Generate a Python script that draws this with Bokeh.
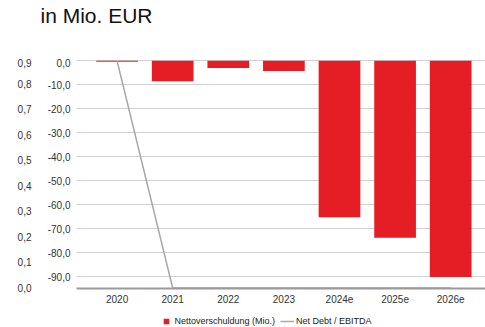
import numpy as np
from bokeh.plotting import figure
from bokeh.layouts import column
from bokeh.models import (Range1d, LinearAxis, FixedTicker, CustomJSTickFormatter,
                          Legend, LegendItem, Title)
from bokeh.embed import file_html
from bokeh.resources import INLINE

# ---- data ----
categories = ["2020", "2021", "2022", "2023", "2024e", "2025e", "2026e"]
net_debt = [-0.4, -8.5, -3.0, -4.3, -65.2, -73.8, -90.1]          # Nettoverschuldung (Mio.)
net_debt_ebitda = [0.89, 0.0, 0.0, 0.0, 0.0, 0.0, 0.0]            # Net Debt / EBITDA
debt_ticks = [0, -10, -20, -30, -40, -50, -60, -70, -80, -90]
ratio_ticks = [0.0, 0.1, 0.2, 0.3, 0.4, 0.5, 0.6, 0.7, 0.8, 0.9]

xs = list(range(len(categories)))
FONT = "Liberation Sans"
RED = "#e41e24"
GREY_LINE = "#a8a8a8"
W = 485


def strip(height):
    f = figure(width=W, height=height, x_range=Range1d(0, 1), y_range=Range1d(0, 1),
               x_axis_type=None, y_axis_type=None, output_backend="svg",
               toolbar_location=None, min_border_left=76, min_border_right=0,
               min_border_top=0, min_border_bottom=0, title=None)
    f.outline_line_color = None
    f.xgrid.visible = False
    f.ygrid.visible = False
    return f


# ---- title strip ----
title_fig = strip(58)
title_fig.title = Title(text="in Mio. EUR", align="left", offset=-36, standoff=2,
                        text_font=FONT, text_font_size="21px", text_font_style="normal",
                        text_color="#111111")

# ---- main chart ----
p = figure(width=W, height=250, title=None,
           x_range=Range1d(-0.73, 6.626), y_range=Range1d(-94.9, 0.96),
           output_backend="svg", toolbar_location=None,
           min_border_left=76, min_border_right=0, min_border_top=0, min_border_bottom=20)
p.outline_line_color = None
p.extra_y_ranges = {"ratio": Range1d(-0.002, 0.9)}

bars = p.vbar(x=xs, top=net_debt, bottom=0, width=0.75, fill_color=RED, line_color=None)
line = p.line(x=xs, y=net_debt_ebitda, y_range_name="ratio", line_color=GREY_LINE, line_width=1.5)

fmt = CustomJSTickFormatter(code="return tick.toFixed(1).replace('.', ',');")

ya = p.yaxis[0]
ya.ticker = FixedTicker(ticks=debt_ticks)
ya.formatter = fmt
ya.axis_line_color = None
ya.major_tick_line_color = None
ya.minor_tick_line_color = None
ya.major_tick_out = 0
ya.major_tick_in = 0
ya.major_label_standoff = 6
ya.major_label_text_font = FONT
ya.major_label_text_font_size = "10px"
ya.major_label_text_color = "#333333"

ax2 = LinearAxis(y_range_name="ratio", ticker=FixedTicker(ticks=ratio_ticks), formatter=fmt)
ax2.axis_line_color = None
ax2.major_tick_line_color = None
ax2.minor_tick_line_color = None
ax2.major_tick_out = 0
ax2.major_tick_in = 0
ax2.major_label_standoff = 13
ax2.major_label_text_font = FONT
ax2.major_label_text_font_size = "10px"
ax2.major_label_text_color = "#333333"
p.add_layout(ax2, "left")

xa = p.xaxis[0]
xa.ticker = FixedTicker(ticks=xs)
xa.major_label_overrides = {i: c for i, c in zip(xs, categories)}
xa.axis_line_color = "#9a9a9a"
xa.axis_line_width = 2
xa.major_tick_line_color = None
xa.minor_tick_line_color = None
xa.major_tick_out = 0
xa.major_tick_in = 0
xa.major_label_standoff = 6
xa.major_label_text_font = FONT
xa.major_label_text_font_size = "10px"
xa.major_label_text_color = "#333333"

p.xgrid.visible = False
p.ygrid.ticker = FixedTicker(ticks=debt_ticks)
p.ygrid.grid_line_color = "#d0d0d0"
p.ygrid.grid_line_width = 1

# ---- legend strip (legend swatches are proxies with no visible points) ----
leg_fig = strip(19)
nan = np.array([np.nan])
sq = leg_fig.scatter(x=nan, y=nan, marker="square", size=6, fill_color=RED, line_color=None)
ln = leg_fig.line(x=nan, y=nan, line_color=GREY_LINE, line_width=1.5)
leg = Legend(items=[LegendItem(label="Nettoverschuldung (Mio.)", renderers=[sq]),
                    LegendItem(label="Net Debt / EBITDA", renderers=[ln])],
             orientation="horizontal", location=(82.5, -1),
             glyph_width=14, glyph_height=14, label_standoff=2, spacing=5,
             padding=0, margin=0, border_line_alpha=0, background_fill_alpha=0,
             label_text_font=FONT, label_text_font_size="9px", label_text_color="#222222",
             label_height=14)
leg_fig.add_layout(leg)

layout = column(title_fig, p, leg_fig, spacing=0)
open("out.html", "w").write(file_html(layout, INLINE))
